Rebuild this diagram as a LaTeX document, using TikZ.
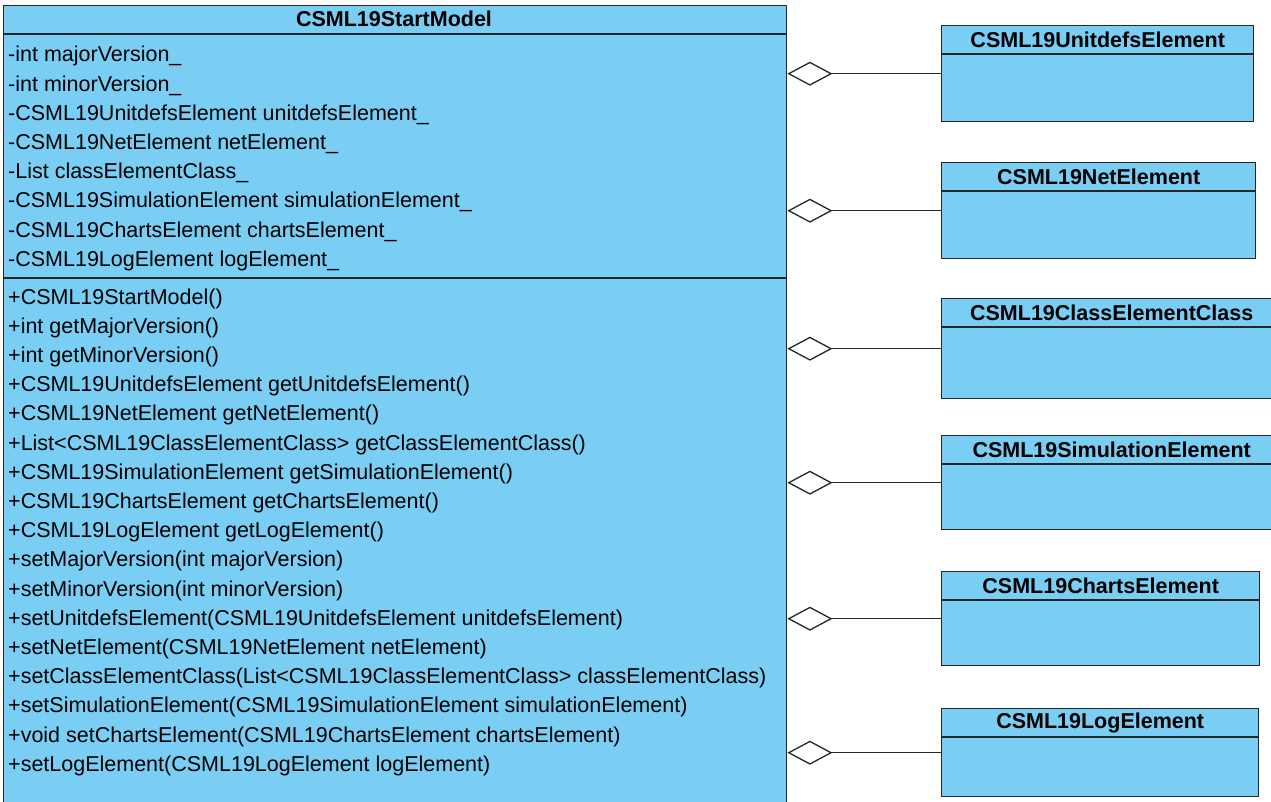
\documentclass[tikz,border=0pt]{standalone}
\usepackage{fontspec}
\setmainfont{Liberation Sans}
\usetikzlibrary{positioning, arrows.meta}
\definecolor{umlblue}{HTML}{7ACEF4}

\begin{document}
\begin{tikzpicture}[
  x=1pt, y=-1pt,
  font=\fontsize{21.5}{25}\selectfont,
  cls/.style={rectangle, draw=black!85, line width=1.4pt, fill=umlblue,
              anchor=north west, inner sep=0pt},
  ttl/.style={font=\fontsize{21.5}{25}\selectfont\bfseries, inner sep=0pt},
  mbr/.style={anchor=west, inner sep=0pt, text height=15pt, text depth=5pt},
  agg/.style={-{Diamond[open, length=45pt, width=24pt, line width=1.3pt]},
              draw=black!85, line width=1.3pt}
]
\useasboundingbox (0,0) rectangle (1271,802);
\clip (0,0) rectangle (1271,802);

% --- main class ---
\node[cls, minimum width=783, minimum height=830] (model) at (3,5) {};
\draw[draw=black!85, line width=1.4pt]
  ([yshift=-29pt]model.north west) -- ([yshift=-29pt]model.north east);
\draw[draw=black!85, line width=1.4pt]
  ([yshift=-273pt]model.north west) -- ([yshift=-273pt]model.north east);
\node[ttl] (modelttl) at (394,19) {CSML19StartModel};

% --- attributes ---
\foreach \m [count=\i from 0] in {-int majorVersion\_, -int minorVersion\_,
  -CSML19UnitdefsElement unitdefsElement\_, -CSML19NetElement netElement\_,
  -List classElementClass\_, -CSML19SimulationElement simulationElement\_,
  -CSML19ChartsElement chartsElement\_, -CSML19LogElement logElement\_}
  \node[mbr] (attr\i) at (8, 57+29.2*\i) {\m};

% --- operations ---
\foreach \m [count=\i from 0] in {+CSML19StartModel(), +int getMajorVersion(),
  +int getMinorVersion(), +CSML19UnitdefsElement getUnitdefsElement(),
  +CSML19NetElement getNetElement(),
  +List<CSML19ClassElementClass> getClassElementClass(),
  +CSML19SimulationElement getSimulationElement(),
  +CSML19ChartsElement getChartsElement(), +CSML19LogElement getLogElement(),
  +setMajorVersion(int majorVersion), +setMinorVersion(int minorVersion),
  +setUnitdefsElement(CSML19UnitdefsElement unitdefsElement),
  +setNetElement(CSML19NetElement netElement),
  +setClassElementClass(List<CSML19ClassElementClass> classElementClass),
  +setSimulationElement(CSML19SimulationElement simulationElement),
  +void setChartsElement(CSML19ChartsElement chartsElement),
  +setLogElement(CSML19LogElement logElement)}
  \node[mbr] (op\i) at (8, 299+29.2*\i) {\m};

% --- part classes, with aggregation to the main class ---
\foreach \n/\t/\y/\w/\h in {
  unitdefs/CSML19UnitdefsElement/25/312/96,
  net/CSML19NetElement/162/314/96,
  classel/CSML19ClassElementClass/298/340/100,
  simulation/CSML19SimulationElement/435/340/94,
  charts/CSML19ChartsElement/571/318/94,
  log/CSML19LogElement/708/317/88}
{
  \node[cls, minimum width=\w, minimum height=\h] (\n) at (941,\y) {};
  \draw[draw=black!85, line width=1.4pt]
    ([yshift=-29pt]\n.north west) -- ([yshift=-29pt]\n.north east);
  \node[ttl, below=15pt of \n.north, anchor=center] (\n ttl) {\t};
  \draw[agg] (\n.west) -- (\n.west -| model.east);
}
\end{tikzpicture}
\end{document}
